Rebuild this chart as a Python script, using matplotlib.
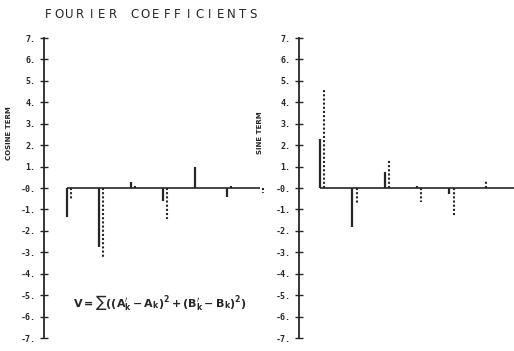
import matplotlib.pyplot as plt
import numpy as np

# harmonic index
k = np.arange(1, 8)

# cosine coefficients (solid = A'k, dotted = Ak)
cos_solid = [-1.35, -2.75, 0.3, -0.6, 1.0, -0.4, 0.0]
cos_dotted = [-0.5, -3.25, 0.1, -1.45, 0.0, 0.1, -0.25]

# sine coefficients (solid = B'k, dotted = Bk)
sin_solid = [2.3, -1.8, 0.75, 0.1, -0.3, 0.0, 0.0]
sin_dotted = [4.6, -0.75, 1.3, -0.65, -1.35, 0.35, -0.2]

yticks = np.arange(-7, 8)
ytick_labels = [f"{v}." if v != 0 else "-0." for v in yticks]

ink = "#262626"
W, H = 514, 351

fig = plt.figure(figsize=(W / 100, H / 100), dpi=100)


def panel(left_px, right_px, x0, x1, solid, dotted, ylabel, ylabel_x):
    ax = fig.add_axes([left_px / W, (H - 338) / H, (right_px - left_px) / W, 300 / H])
    ax.set_xlim(x0, x1)
    ax.set_ylim(-7, 7)
    for s in ["top", "right", "bottom"]:
        ax.spines[s].set_visible(False)
    ax.spines["left"].set_color(ink)
    ax.spines["left"].set_linewidth(1.3)
    ax.set_xticks([])
    ax.set_yticks(yticks)
    ax.set_yticklabels(ytick_labels, family="DejaVu Sans Mono", fontweight="bold",
                       fontsize=6, color=ink)
    ax.tick_params(axis="y", direction="inout", length=6, width=1, color=ink, pad=3)
    # zero line
    ax.hlines(0, k[0], k[-1] + 0.03, color=ink, lw=1.2, clip_on=False)
    ax.vlines(k, 0, solid, color=ink, lw=1.6, clip_on=False)
    ax.vlines(k + 0.13, 0, dotted, color=ink, lw=1.5, linestyles=(0, (1, 1)), clip_on=False)
    fig.text(ylabel_x / W, 1 - 133 / H, ylabel, rotation=90, ha="center", va="center",
             fontsize=5, fontweight="bold", color=ink)
    return ax


panel(44, 262, 0.28, 7.1, cos_solid, cos_dotted, "COSINE TERM", 9)
panel(299, 516, 0.35, 7.06, sin_solid, sin_dotted, "SINE TERM", 260)

# title with wide plotter-style letter spacing
title = "FOURIER COEFFICIENTS"
for i, ch in enumerate(title):
    fig.text((48 + i * 10.8) / W, 1 - 14 / H, ch, ha="center", va="center",
             fontsize=8.5, color=ink)

fig.text(160 / W, 1 - 303 / H, r"$\mathbf{V=\sum((A_k^{\prime}-A_k)^2+(B_k^{\prime}-B_k)^2)}$",
         ha="center", va="center", fontsize=8, color=ink)

fig.savefig("out.png", dpi=100, facecolor="white")
